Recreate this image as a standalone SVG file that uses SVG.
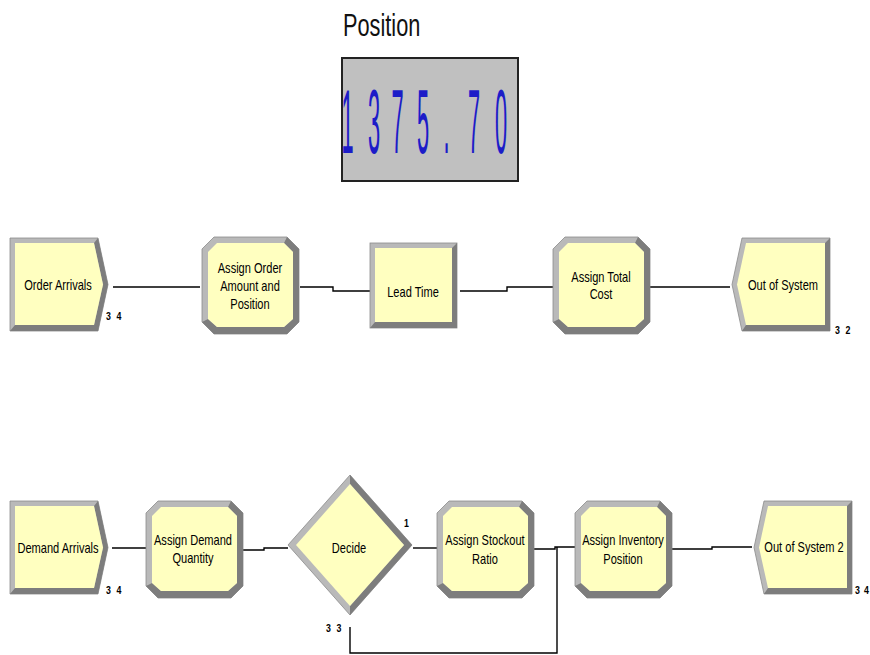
<svg xmlns="http://www.w3.org/2000/svg" xmlns:xlink="http://www.w3.org/1999/xlink" width="870" height="655" viewBox="0 0 870 655">
  <style>
    .lt { fill: #b9b9b9; stroke: #8c8c8c; stroke-width: 0.8; }
    .dk { fill: #7d7d7d; }
    .in { fill: #ffffc0; }
    .lbl { font-family: "Liberation Sans", Arial, sans-serif; font-size: 14px; fill: #000; text-anchor: middle; }
    .cnt { font-family: "Liberation Sans", Arial, sans-serif; font-size: 11px; font-weight: bold; fill: #000; letter-spacing: 2px; }
    .digit { font-family: "Liberation Sans", Arial, sans-serif; font-size: 91px; fill: #1c1cc8; text-anchor: middle; }
    .wire { fill: none; stroke: #000; stroke-width: 1.4; }
  </style>
  <defs>
    <!-- Create module: flat left side, pointed right side -->
    <g id="shape-create">
      <polygon class="lt" points="0,0 88,0 98,46.5 88,93 0,93"/>
      <polygon class="dk" points="88,0 98,46.5 88,93 0,93 5,87 84,87 93,46.5 84,5"/>
      <polygon class="in" points="5,5 84,5 93,46.5 84,87 5,87"/>
    </g>
    <!-- Assign module: bevelled octagon -->
    <g id="shape-assign">
      <polygon class="lt" points="12,0 85,0 97,12 97,85 85,97 12,97 0,85 0,12"/>
      <polygon class="dk" points="85,0 97,12 97,85 85,97 12,97 0,85 6,82 15,90 82,90 91,82 91,15 82,6"/>
      <polygon class="in" points="15,6 82,6 91,15 91,82 82,90 15,90 6,82 6,15"/>
    </g>
    <!-- Process module: bevelled rectangle -->
    <g id="shape-process">
      <rect class="lt" x="0" y="0" width="87" height="85"/>
      <polygon class="dk" points="87,0 87,85 0,85 5,79 82,79 82,5"/>
      <rect class="in" x="5" y="5" width="77" height="74"/>
    </g>
    <!-- Dispose module: notched left side -->
    <g id="shape-dispose">
      <polygon class="lt" points="10,0 98,0 98,93 10,93 0,46.5"/>
      <polygon class="dk" points="98,0 98,93 10,93 14,87 93,87 93,5"/>
      <polygon class="in" points="14,5 93,5 93,87 14,87 5,46.5"/>
    </g>
    <!-- Decide module: bevelled diamond -->
    <g id="shape-decide">
      <polygon class="lt" points="62,0 124,70 62,140 0,70"/>
      <polygon class="dk" points="62,0 124,70 62,140 62,131 116,70 62,9"/>
      <polygon class="in" points="62,9 116,70 62,131 8,70"/>
    </g>
  </defs>

  <rect width="870" height="655" fill="#fff"/>

  <!-- Variable display -->
  <g id="position-display">
    <text transform="translate(343,36) scale(0.68,1)" font-family="'Liberation Sans', Arial, sans-serif" font-size="32" fill="#111">Position</text>
    <rect x="342" y="58" width="176" height="123" fill="#c0c0c0" stroke="#222" stroke-width="2"/>
    <text class="digit" transform="translate(347.5,153) scale(0.24,1)">1</text>
    <text class="digit" transform="translate(374,153) scale(0.24,1)">3</text>
    <text class="digit" transform="translate(397.5,153) scale(0.24,1)">7</text>
    <text class="digit" transform="translate(423,153) scale(0.24,1)">5</text>
    <text class="digit" transform="translate(446.5,153) scale(0.24,1)">.</text>
    <text class="digit" transform="translate(474,153) scale(0.24,1)">7</text>
    <text class="digit" transform="translate(501,153) scale(0.24,1)">0</text>
  </g>

  <!-- Connectors -->
  <g id="connectors">
    <path class="wire" d="M113,287 H200"/>
    <path class="wire" d="M300,287 H333 V291 H370"/>
    <path class="wire" d="M460,291 H507 V287 H553"/>
    <path class="wire" d="M650,287 H730"/>
    <path class="wire" d="M112,548 H146"/>
    <path class="wire" d="M243,550 H264 V548 H288"/>
    <path class="wire" d="M413,548 H437"/>
    <path class="wire" d="M534,549 H555 V547 H575"/>
    <path class="wire" d="M350,627 V653 H557 V547"/>
    <path class="wire" d="M672,549 H712 V547 H752"/>
  </g>

  <!-- Order flow -->
  <g id="order-arrivals">
    <use href="#shape-create" xlink:href="#shape-create" x="10" y="238"/>
    <text class="lbl" transform="translate(58,290) scale(0.79,1)">Order Arrivals</text>
    <text class="cnt" transform="translate(106,320) scale(0.8,1)">3 4</text>
  </g>
  <g id="assign-order">
    <use href="#shape-assign" xlink:href="#shape-assign" x="202" y="237"/>
    <text class="lbl" transform="translate(250,273) scale(0.79,1)">Assign Order</text>
    <text class="lbl" transform="translate(250,291) scale(0.79,1)">Amount and</text>
    <text class="lbl" transform="translate(250,309) scale(0.79,1)">Position</text>
  </g>
  <g id="lead-time">
    <use href="#shape-process" xlink:href="#shape-process" x="370" y="243"/>
    <text class="lbl" transform="translate(413,297) scale(0.79,1)">Lead Time</text>
  </g>
  <g id="assign-total-cost">
    <use href="#shape-assign" xlink:href="#shape-assign" x="553" y="237"/>
    <text class="lbl" transform="translate(601,282) scale(0.79,1)">Assign Total</text>
    <text class="lbl" transform="translate(601,299) scale(0.79,1)">Cost</text>
  </g>
  <g id="out-of-system">
    <use href="#shape-dispose" xlink:href="#shape-dispose" x="732" y="238"/>
    <text class="lbl" transform="translate(783,290) scale(0.79,1)">Out of System</text>
    <text class="cnt" transform="translate(835,334) scale(0.8,1)">3 2</text>
  </g>

  <!-- Demand flow -->
  <g id="demand-arrivals">
    <use href="#shape-create" xlink:href="#shape-create" x="10" y="501"/>
    <text class="lbl" transform="translate(58,553) scale(0.79,1)">Demand Arrivals</text>
    <text class="cnt" transform="translate(106,594) scale(0.8,1)">3 4</text>
  </g>
  <g id="assign-demand-quantity">
    <use href="#shape-assign" xlink:href="#shape-assign" x="146" y="501"/>
    <text class="lbl" transform="translate(193,545) scale(0.79,1)">Assign Demand</text>
    <text class="lbl" transform="translate(193,563) scale(0.79,1)">Quantity</text>
  </g>
  <g id="decide">
    <use href="#shape-decide" xlink:href="#shape-decide" x="288" y="475"/>
    <text class="lbl" transform="translate(349,553) scale(0.79,1)">Decide</text>
    <text class="cnt" transform="translate(404,527) scale(0.8,1)">1</text>
    <text class="cnt" transform="translate(326,632) scale(0.8,1)">3 3</text>
  </g>
  <g id="assign-stockout-ratio">
    <use href="#shape-assign" xlink:href="#shape-assign" x="437" y="501"/>
    <text class="lbl" transform="translate(485,545) scale(0.79,1)">Assign Stockout</text>
    <text class="lbl" transform="translate(485,564) scale(0.79,1)">Ratio</text>
  </g>
  <g id="assign-inventory-position">
    <use href="#shape-assign" xlink:href="#shape-assign" x="575" y="501"/>
    <text class="lbl" transform="translate(623,545) scale(0.79,1)">Assign Inventory</text>
    <text class="lbl" transform="translate(623,564) scale(0.79,1)">Position</text>
  </g>
  <g id="out-of-system-2">
    <use href="#shape-dispose" xlink:href="#shape-dispose" x="754" y="501"/>
    <text class="lbl" transform="translate(804,552) scale(0.79,1)">Out of System 2</text>
    <text class="cnt" transform="translate(855,594) scale(0.8,1)" style="letter-spacing:1px">3 4</text>
  </g>
</svg>
